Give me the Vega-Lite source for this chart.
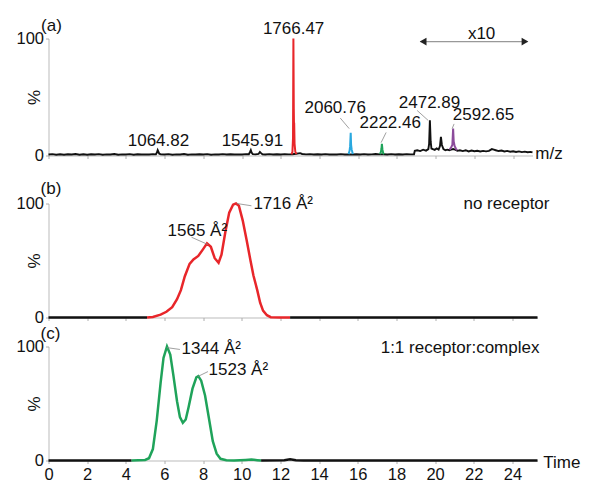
{
  "$schema": "https://vega.github.io/schema/vega-lite/v6.json",
  "padding": {"left": 15.5, "top": 16.5, "right": 0, "bottom": 0},
  "background": "white",
  "config": {
    "view": {"stroke": null},
    "font": "Liberation Sans",
    "axis": {"grid": false, "labelFont": "Liberation Sans", "labelFontSize": 16.5, "labelColor": "#111", "tickColor": "#999", "tickSize": 3, "tickWidth": 0.8, "domainColor": "#aaa", "domainWidth": 0.8, "titleFont": "Liberation Sans", "titleFontSize": 17, "titleFontWeight": "normal", "titleColor": "#111", "labelFlush": false, "labelOverlap": false},
    "text": {"font": "Liberation Sans", "fontSize": 17, "color": "#111"}
  },
  "datasets": {
    "specK": [
      {"mz":500,"i":0.8},{"mz":520,"i":1.2},{"mz":540,"i":0.7},{"mz":560,"i":1.0},{"mz":580,"i":0.6},{"mz":600,"i":1.1},{"mz":620,"i":0.8},{"mz":640,"i":1.3},{"mz":660,"i":0.7},{"mz":680,"i":1.0},{"mz":700,"i":0.6},{"mz":720,"i":1.1},{"mz":740,"i":0.9},{"mz":760,"i":1.2},{"mz":780,"i":0.7},{"mz":800,"i":1.0},{"mz":820,"i":0.8},{"mz":840,"i":1.3},{"mz":860,"i":0.6},{"mz":880,"i":1.0},{"mz":900,"i":0.9},{"mz":920,"i":1.2},{"mz":940,"i":0.7},{"mz":960,"i":1.1},{"mz":980,"i":0.8},{"mz":1000,"i":1.0},{"mz":1020,"i":0.9},{"mz":1040,"i":1.2},{"mz":1055,"i":1.0},{"mz":1060,"i":2.5},{"mz":1064,"i":4.5},{"mz":1068,"i":3.0},{"mz":1072,"i":1.5},{"mz":1080,"i":1.0},{"mz":1100,"i":0.8},{"mz":1120,"i":1.2},{"mz":1140,"i":0.7},{"mz":1160,"i":1.0},{"mz":1180,"i":0.9},{"mz":1200,"i":1.3},{"mz":1220,"i":0.7},{"mz":1240,"i":1.0},{"mz":1260,"i":0.8},{"mz":1280,"i":1.1},{"mz":1300,"i":0.9},{"mz":1320,"i":1.2},{"mz":1340,"i":0.7},{"mz":1360,"i":1.0},{"mz":1380,"i":0.8},{"mz":1400,"i":1.2},{"mz":1420,"i":0.9},{"mz":1440,"i":1.1},{"mz":1460,"i":0.8},{"mz":1480,"i":1.0},{"mz":1500,"i":0.9},{"mz":1520,"i":1.2},{"mz":1535,"i":1.1},{"mz":1541,"i":3.0},{"mz":1545,"i":4.5},{"mz":1549,"i":2.5},{"mz":1555,"i":1.2},{"mz":1570,"i":1.0},{"mz":1585,"i":1.3},{"mz":1592,"i":3.0},{"mz":1598,"i":2.0},{"mz":1605,"i":1.1},{"mz":1620,"i":0.9},{"mz":1640,"i":1.2},{"mz":1660,"i":0.8},{"mz":1680,"i":1.1},{"mz":1700,"i":0.9},{"mz":1720,"i":1.2},{"mz":1740,"i":1.0},{"mz":1760,"i":1.1},{"mz":1780,"i":1.5},{"mz":1800,"i":2.0},{"mz":1810,"i":1.3},{"mz":1830,"i":1.0},{"mz":1850,"i":1.2},{"mz":1870,"i":0.8},{"mz":1890,"i":1.1},{"mz":1910,"i":0.9},{"mz":1930,"i":1.2},{"mz":1950,"i":0.8},{"mz":1970,"i":1.0},{"mz":1990,"i":0.9},{"mz":2010,"i":1.2},{"mz":2030,"i":0.8},{"mz":2050,"i":1.0},{"mz":2070,"i":0.9},{"mz":2090,"i":1.1},{"mz":2110,"i":0.8},{"mz":2130,"i":1.2},{"mz":2150,"i":0.9},{"mz":2170,"i":1.0},{"mz":2190,"i":1.3},{"mz":2210,"i":1.0},{"mz":2230,"i":1.1},{"mz":2250,"i":0.9},{"mz":2270,"i":1.2},{"mz":2290,"i":0.8},{"mz":2310,"i":1.1},{"mz":2330,"i":0.9},{"mz":2350,"i":1.2},{"mz":2370,"i":1.0},{"mz":2388,"i":1.1},{"mz":2392,"i":4.0},{"mz":2405,"i":4.5},{"mz":2420,"i":3.8},{"mz":2435,"i":5.0},{"mz":2450,"i":4.2},{"mz":2462,"i":5.5},{"mz":2466,"i":10},{"mz":2470,"i":30},{"mz":2474,"i":12},{"mz":2478,"i":6},{"mz":2485,"i":5.5},{"mz":2495,"i":4.8},{"mz":2505,"i":6.0},{"mz":2515,"i":5.0},{"mz":2522,"i":8},{"mz":2527,"i":16},{"mz":2532,"i":9},{"mz":2540,"i":5.5},{"mz":2550,"i":4.5},{"mz":2560,"i":5.0},{"mz":2570,"i":4.5},{"mz":2580,"i":5.0},{"mz":2590,"i":5.5},{"mz":2600,"i":5.0},{"mz":2612,"i":4.0},{"mz":2625,"i":4.5},{"mz":2640,"i":3.8},{"mz":2655,"i":4.5},{"mz":2670,"i":3.5},{"mz":2685,"i":4.2},{"mz":2700,"i":3.6},{"mz":2715,"i":4.0},{"mz":2730,"i":3.4},{"mz":2745,"i":3.9},{"mz":2760,"i":3.5},{"mz":2775,"i":4.0},{"mz":2790,"i":5.5},{"mz":2800,"i":5.0},{"mz":2810,"i":4.5},{"mz":2825,"i":3.8},{"mz":2840,"i":4.2},{"mz":2855,"i":3.4},{"mz":2870,"i":3.9},{"mz":2885,"i":3.2},{"mz":2900,"i":3.6},{"mz":2915,"i":3.0},{"mz":2930,"i":3.5},{"mz":2945,"i":2.9},{"mz":2960,"i":3.3},{"mz":2975,"i":2.8},{"mz":2990,"i":3.1},{"mz":3000,"i":2.6}
    ],
    "specC": [
      {"mz":1755,"i":1,"s":"r"},{"mz":1760,"i":3,"s":"r"},{"mz":1763,"i":15,"s":"r"},{"mz":1765,"i":100,"s":"r"},{"mz":1767,"i":40,"s":"r"},{"mz":1768,"i":27,"s":"r"},{"mz":1769,"i":28,"s":"r"},{"mz":1771,"i":10,"s":"r"},{"mz":1775,"i":3,"s":"r"},{"mz":1781,"i":1.2,"s":"r"},
      {"mz":2050,"i":1.2,"s":"b"},{"mz":2055,"i":4,"s":"b"},{"mz":2058,"i":8,"s":"b"},{"mz":2061,"i":19.5,"s":"b"},{"mz":2063,"i":9,"s":"b"},{"mz":2066,"i":5,"s":"b"},{"mz":2072,"i":1.2,"s":"b"},
      {"mz":2212,"i":1.2,"s":"g"},{"mz":2217,"i":3,"s":"g"},{"mz":2220,"i":6,"s":"g"},{"mz":2222,"i":10,"s":"g"},{"mz":2225,"i":5,"s":"g"},{"mz":2229,"i":2,"s":"g"},{"mz":2234,"i":1.2,"s":"g"},
      {"mz":2572,"i":5,"s":"p"},{"mz":2580,"i":7,"s":"p"},{"mz":2586,"i":9,"s":"p"},{"mz":2590,"i":23,"s":"p"},{"mz":2593,"i":12,"s":"p"},{"mz":2598,"i":8,"s":"p"},{"mz":2604,"i":6,"s":"p"},{"mz":2610,"i":4.5,"s":"p"}
    ],
    "leadA": [
      {"x":2007,"y":32,"x2":2053,"y2":23},
      {"x":2244,"y":19.7,"x2":2218,"y2":11},
      {"x":2404,"y":38.5,"x2":2461,"y2":30},
      {"x":2595,"y":27,"x2":2585,"y2":23}
    ],
    "arrowA": [{"x":2420,"x2":2975,"y":97.4}],
    "headsA": [{"x":2435,"y":97.4,"h":"L"},{"x":2961,"y":97.4,"h":"R"}],
    "textA": [
      {"x":1766,"y":108,"t":"1766.47"},
      {"x":1068,"y":12,"t":"1064.82"},
      {"x":1553,"y":12,"t":"1545.91"},
      {"x":1981,"y":40.6,"t":"2060.76"},
      {"x":2265,"y":27.8,"t":"2222.46"},
      {"x":2468,"y":44.9,"t":"2472.89"},
      {"x":2747,"y":34.6,"t":"2592.65"},
      {"x":2737,"y":103.8,"t":"x10"},
      {"x":3085,"y":1.3,"t":"m/z"},
      {"x":515,"y":111,"t":"(a)"}
    ],
    "pb": [
      {"t":0,"v":0,"s":"k1"},{"t":5.1,"v":0,"s":"k1"},
      {"t":5.1,"v":0,"s":"r"},{"t":5.4,"v":0.5,"s":"r"},{"t":5.8,"v":2.5,"s":"r"},{"t":6.1,"v":5,"s":"r"},{"t":6.4,"v":9,"s":"r"},{"t":6.65,"v":16,"s":"r"},{"t":6.85,"v":24,"s":"r"},{"t":7.05,"v":36,"s":"r"},{"t":7.3,"v":47,"s":"r"},{"t":7.5,"v":51,"s":"r"},{"t":7.75,"v":54,"s":"r"},{"t":8.0,"v":60,"s":"r"},{"t":8.2,"v":65,"s":"r"},{"t":8.4,"v":62,"s":"r"},{"t":8.6,"v":52,"s":"r"},{"t":8.8,"v":48,"s":"r"},{"t":8.95,"v":55,"s":"r"},{"t":9.15,"v":75,"s":"r"},{"t":9.35,"v":92,"s":"r"},{"t":9.55,"v":99,"s":"r"},{"t":9.7,"v":100,"s":"r"},{"t":9.85,"v":98,"s":"r"},{"t":10.05,"v":85,"s":"r"},{"t":10.25,"v":68,"s":"r"},{"t":10.45,"v":50,"s":"r"},{"t":10.6,"v":37,"s":"r"},{"t":10.8,"v":24,"s":"r"},{"t":10.95,"v":13,"s":"r"},{"t":11.1,"v":6,"s":"r"},{"t":11.3,"v":2,"s":"r"},{"t":11.5,"v":0.3,"s":"r"},{"t":12,"v":0,"s":"r"},{"t":12.5,"v":0,"s":"r"},
      {"t":12.5,"v":0,"s":"k2"},{"t":25.3,"v":0,"s":"k2"}
    ],
    "pc": [
      {"t":0,"v":0,"s":"k1"},{"t":4.3,"v":0,"s":"k1"},
      {"t":4.3,"v":0,"s":"g"},{"t":5.0,"v":0.5,"s":"g"},{"t":5.2,"v":2,"s":"g"},{"t":5.4,"v":10,"s":"g"},{"t":5.6,"v":35,"s":"g"},{"t":5.8,"v":68,"s":"g"},{"t":5.95,"v":90,"s":"g"},{"t":6.13,"v":100,"s":"g"},{"t":6.3,"v":93,"s":"g"},{"t":6.45,"v":76,"s":"g"},{"t":6.65,"v":52,"s":"g"},{"t":6.8,"v":38,"s":"g"},{"t":6.95,"v":33,"s":"g"},{"t":7.1,"v":36,"s":"g"},{"t":7.25,"v":47,"s":"g"},{"t":7.45,"v":63,"s":"g"},{"t":7.65,"v":73,"s":"g"},{"t":7.75,"v":74,"s":"g"},{"t":7.9,"v":70,"s":"g"},{"t":8.1,"v":57,"s":"g"},{"t":8.3,"v":37,"s":"g"},{"t":8.5,"v":17,"s":"g"},{"t":8.7,"v":6,"s":"g"},{"t":8.9,"v":1.5,"s":"g"},{"t":9.2,"v":0.2,"s":"g"},{"t":9.6,"v":0,"s":"g"},{"t":10.2,"v":0.5,"s":"g"},{"t":10.5,"v":0.8,"s":"g"},{"t":10.8,"v":0.3,"s":"g"},{"t":11,"v":0,"s":"g"},
      {"t":11,"v":0,"s":"k2"},{"t":12.2,"v":0.3,"s":"k2"},{"t":12.5,"v":1,"s":"k2"},{"t":12.8,"v":0.3,"s":"k2"},{"t":13.2,"v":0,"s":"k2"},{"t":25.3,"v":0,"s":"k2"}
    ],
    "leadB": [
      {"x":9.74,"y":100,"x2":10.5,"y2":98},
      {"x":7.4,"y":70.4,"x2":8.25,"y2":64}
    ],
    "textBL": [
      {"x":10.6,"y":99.5,"t":"1716 Å²"},
      {"x":6.16,"y":76,"t":"1565 Å²"},
      {"x":-0.41,"y":113,"t":"(b)"}
    ],
    "textBR": [{"x":25.92,"y":100,"t":"no receptor"}],
    "leadC": [
      {"x":6.13,"y":99,"x2":6.8,"y2":97.4},
      {"x":7.73,"y":73.7,"x2":8.25,"y2":78}
    ],
    "textCL": [
      {"x":6.88,"y":97.4,"t":"1344 Å²"},
      {"x":8.28,"y":79,"t":"1523 Å²"},
      {"x":-0.41,"y":111.4,"t":"(c)"},
      {"x":25.6,"y":-1.8,"t":"Time"}
    ],
    "textCR": [{"x":25.4,"y":99,"t":"1:1 receptor:complex"}]
  },
  "spacing": 48,
  "bounds": "flush",
  "vconcat": [
    {
      "width": 484,
      "height": 117,
      "layer": [
        {
          "data": {"name": "specK"},
          "mark": {"type": "line", "color": "#111", "strokeWidth": 1.9},
          "encoding": {
            "x": {"field": "mz", "type": "quantitative", "scale": {"domain": [500, 3000], "nice": false, "zero": false},
                  "axis": {"title": null, "format": "d", "labelOverlap": false, "values": [500,600,700,800,900,1000,1100,1200,1300,1400,1500,1600,1700,1800,1900,2000,2100,2200,2300,2400,2500,2600,2700,2800,2900,3000], "labelExpr": "datum.value % 400 == 200 ? datum.label : ''", "labelPadding": 3}},
            "y": {"field": "i", "type": "quantitative", "scale": {"domain": [0, 100], "nice": false},
                  "axis": {"title": "%", "labelOverlap": false, "values": [0, 100], "labelPadding": 2, "titlePadding": -27.5}}
          }
        },
        {
          "data": {"name": "specC"},
          "mark": {"type": "line", "strokeWidth": 2.0},
          "encoding": {
            "x": {"field": "mz", "type": "quantitative"},
            "y": {"field": "i", "type": "quantitative"},
            "color": {"field": "s", "type": "nominal", "scale": {"domain": ["r", "b", "g", "p", "k1", "k2"], "range": ["#e8262a", "#29a8df", "#1fa35a", "#8c4c9b", "#111111", "#111111"]}, "legend": null}
          }
        },
        {
          "data": {"name": "leadA"},
          "mark": {"type": "rule", "color": "#888", "strokeWidth": 0.8},
          "encoding": {"x": {"field": "x", "type": "quantitative"}, "y": {"field": "y", "type": "quantitative"}, "x2": {"field": "x2"}, "y2": {"field": "y2"}}
        },
        {
          "data": {"name": "arrowA"},
          "mark": {"type": "rule", "color": "#999", "strokeWidth": 1.2, "clip": false},
          "encoding": {"x": {"field": "x", "type": "quantitative"}, "x2": {"field": "x2"}, "y": {"field": "y", "type": "quantitative"}}
        },
        {
          "data": {"name": "headsA"},
          "mark": {"type": "point", "filled": true, "color": "#222", "size": 60, "opacity": 1},
          "encoding": {"x": {"field": "x", "type": "quantitative"}, "y": {"field": "y", "type": "quantitative"},
                       "shape": {"field": "h", "type": "nominal", "scale": {"domain": ["L", "R"], "range": ["triangle-left", "triangle-right"]}, "legend": null}}
        },
        {
          "data": {"name": "textA"},
          "mark": {"type": "text", "align": "center", "baseline": "middle"},
          "encoding": {"x": {"field": "x", "type": "quantitative"}, "y": {"field": "y", "type": "quantitative"}, "text": {"field": "t"}}
        }
      ]
    },
    {
      "spacing": 29,
      "bounds": "flush",
      "vconcat": [
        {
          "width": 489,
          "height": 114,
          "layer": [
            {
              "data": {"name": "pb"},
              "mark": {"type": "line", "strokeWidth": 2.5},
              "encoding": {
                "x": {"field": "t", "type": "quantitative", "scale": {"domain": [0, 25.3], "nice": false, "zero": false},
                      "axis": {"title": null, "labels": false, "values": [0,1,2,3,4,5,6,7,8,9,10,11,12,13,14,15,16,17,18,19,20,21,22,23,24,25]}},
                "y": {"field": "v", "type": "quantitative", "scale": {"domain": [0, 100], "nice": false},
                      "axis": {"title": "%", "labelOverlap": false, "values": [0, 100], "labelPadding": 2, "titlePadding": -27.5}},
                "color": {"field": "s", "type": "nominal", "scale": {"domain": ["r", "b", "g", "p", "k1", "k2"], "range": ["#e8262a", "#29a8df", "#1fa35a", "#8c4c9b", "#111111", "#111111"]}, "legend": null}
              }
            },
            {
              "data": {"name": "leadB"},
              "mark": {"type": "rule", "color": "#888", "strokeWidth": 0.8},
              "encoding": {"x": {"field": "x", "type": "quantitative"}, "y": {"field": "y", "type": "quantitative"}, "x2": {"field": "x2"}, "y2": {"field": "y2"}}
            },
            {
              "data": {"name": "textBL"},
              "mark": {"type": "text", "align": "left", "baseline": "middle"},
              "encoding": {"x": {"field": "x", "type": "quantitative"}, "y": {"field": "y", "type": "quantitative"}, "text": {"field": "t"}}
            },
            {
              "data": {"name": "textBR"},
              "mark": {"type": "text", "align": "right", "baseline": "middle"},
              "encoding": {"x": {"field": "x", "type": "quantitative"}, "y": {"field": "y", "type": "quantitative"}, "text": {"field": "t"}}
            }
          ]
        },
        {
          "width": 489,
          "height": 114,
          "layer": [
            {
              "data": {"name": "pc"},
              "mark": {"type": "line", "strokeWidth": 2.5},
              "encoding": {
                "x": {"field": "t", "type": "quantitative", "scale": {"domain": [0, 25.3], "nice": false, "zero": false},
                      "axis": {"title": null, "format": "d", "labelOverlap": false, "values": [0,1,2,3,4,5,6,7,8,9,10,11,12,13,14,15,16,17,18,19,20,21,22,23,24,25], "labelExpr": "datum.value % 2 == 0 && datum.value < 25 ? datum.label : ''", "labelPadding": 3}},
                "y": {"field": "v", "type": "quantitative", "scale": {"domain": [0, 100], "nice": false},
                      "axis": {"title": "%", "labelOverlap": false, "values": [0, 100], "labelPadding": 2, "titlePadding": -27.5}},
                "color": {"field": "s", "type": "nominal", "scale": {"domain": ["r", "b", "g", "p", "k1", "k2"], "range": ["#e8262a", "#29a8df", "#1fa35a", "#8c4c9b", "#111111", "#111111"]}, "legend": null}
              }
            },
            {
              "data": {"name": "leadC"},
              "mark": {"type": "rule", "color": "#888", "strokeWidth": 0.8},
              "encoding": {"x": {"field": "x", "type": "quantitative"}, "y": {"field": "y", "type": "quantitative"}, "x2": {"field": "x2"}, "y2": {"field": "y2"}}
            },
            {
              "data": {"name": "textCL"},
              "mark": {"type": "text", "align": "left", "baseline": "middle"},
              "encoding": {"x": {"field": "x", "type": "quantitative"}, "y": {"field": "y", "type": "quantitative"}, "text": {"field": "t"}}
            },
            {
              "data": {"name": "textCR"},
              "mark": {"type": "text", "align": "right", "baseline": "middle"},
              "encoding": {"x": {"field": "x", "type": "quantitative"}, "y": {"field": "y", "type": "quantitative"}, "text": {"field": "t"}}
            }
          ]
        }
      ]
    }
  ]
}
